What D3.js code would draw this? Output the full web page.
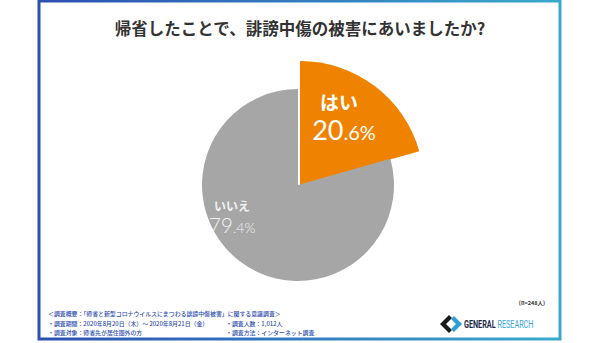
<!DOCTYPE html>
<html><head><meta charset="utf-8">
<script src="https://cdn.jsdelivr.net/npm/d3@7"></script>
<style>body{margin:0;background:#fff}svg{display:block}</style>
</head><body>
<script>
const categories = ["はい", "いいえ"];
const values = [20.6, 79.4];
const colors = ["#ef8300", "#a6a6a6"];
const title = "帰省したことで、誹謗中傷の被害にあいましたか?";
const sampleNote = "(n=248人)";
const notes = [
  ["＜調査概要：「帰省と新型コロナウイルスにまつわる誹謗中傷被害」に関する意識調査＞", ""],
  ["・調査期間：2020年8月20日（木）～ 2020年8月21日（金）", "・調査人数：1,012人"],
  ["・調査対象：帰省先が居住圏外の方", "・調査方法：インターネット調査"]
];

const W = 600, H = 343;
const svg = d3.select("body").append("svg").attr("width", W).attr("height", H);
const defs = svg.append("defs");
const grad = defs.append("linearGradient").attr("id", "frame").attr("x1", "0").attr("x2", "1");
grad.append("stop").attr("offset", "0").attr("stop-color", "#2c4fb3");
grad.append("stop").attr("offset", "1").attr("stop-color", "#3aa9cc");

svg.append("rect").attr("x", 39).attr("y", 1).attr("width", 521).attr("height", 338)
  .attr("fill", "#fff").attr("stroke", "url(#frame)").attr("stroke-width", 3);

svg.append("text").attr("x", 300).attr("y", 35).attr("text-anchor", "middle")
  .attr("font-family", "Noto Sans CJK JP").attr("font-weight", 700).attr("font-size", 16.5)
  .attr("fill", "#333").text(title);

const cx = 300, cy = 185;
const pie = d3.pie().sort(null).value(d => d)(values);
const radii = [124, 96];
const g = svg.append("g").attr("transform", `translate(${cx},${cy})`);
pie.forEach((p, i) => {
  const arc = d3.arc().innerRadius(0).outerRadius(radii[i]);
  const off = i === 0 ? [0, 0] : [-2, 0];
  g.append("path").attr("d", arc(p)).attr("fill", colors[i])
    .attr("transform", `translate(${off[0]},${off[1]})`);
});

// labels
const lab = svg.append("g").attr("font-family", "Noto Sans CJK JP").attr("fill", "#fff");
lab.append("text").attr("x", 339).attr("y", 110).attr("text-anchor", "middle")
  .attr("font-weight", 700).attr("font-size", 19).text(categories[0]);
const fmt = v => String(v).split(".");
const v0 = fmt(values[0]);
const t0 = lab.append("text").attr("x", 344).attr("y", 140).attr("text-anchor", "middle")
  .attr("font-family", "Lato, Noto Sans").attr("font-weight", 400).attr("font-size", 27);
t0.append("tspan").text(v0[0]);
t0.append("tspan").attr("font-size", 20).text("." + v0[1] + "%");

lab.append("text").attr("x", 232).attr("y", 211).attr("text-anchor", "middle")
  .attr("font-weight", 700).attr("font-size", 12).attr("fill", "#f2f2f2").text(categories[1]);
const v1 = fmt(values[1]);
const t1 = lab.append("text").attr("x", 232).attr("y", 233).attr("text-anchor", "middle")
  .attr("font-family", "Lato, Noto Sans").attr("font-weight", 300).attr("font-size", 21).attr("fill", "#f2f2f2");
t1.append("tspan").text(v1[0]);
t1.append("tspan").attr("font-size", 14).text("." + v1[1] + "%");

// sample note
svg.append("text").attr("x", 545).attr("y", 305).attr("text-anchor", "end")
  .attr("font-family", "Noto Sans CJK JP").attr("font-weight", 700).attr("font-size", 5.5).attr("fill", "#333").text(sampleNote);

// footnotes
const fn = svg.append("g").attr("font-family", "Noto Sans CJK JP").attr("font-weight", 500).attr("font-size", 5.9).attr("fill", "#2f4fb0");
const rows = [316, 325.5, 334.5];
notes.forEach((r, i) => {
  fn.append("text").attr("x", 48).attr("y", rows[i]).text(r[0]);
  if (r[1]) fn.append("text").attr("x", 226).attr("y", rows[i]).text(r[1]);
});

// logo
const logo = svg.append("g").attr("transform", "translate(450,324)");
logo.append("path").attr("d", "M-1,-9 L-10,0 L-1,9 L2,6 L-4,0 L2,-6 Z").attr("fill", "#1a1a1a");
logo.append("path").attr("d", "M1,-5 L6,0 L1,5 L4,8 L12,0 L4,-8 Z").attr("fill", "#2a9fd8");
const lt = svg.append("text").attr("x", 464).attr("y", 328.5).attr("font-family", "Roboto, Noto Sans")
  .attr("font-weight", 700).attr("font-size", 11.5).attr("transform", "translate(464,328.5) scale(0.63,1) translate(-464,-328.5)");
lt.append("tspan").attr("fill", "#1c2a4a").text("GENERAL ");
lt.append("tspan").attr("fill", "#38a3dc").attr("font-weight", 400).text("RESEARCH");
</script>
</body></html>
